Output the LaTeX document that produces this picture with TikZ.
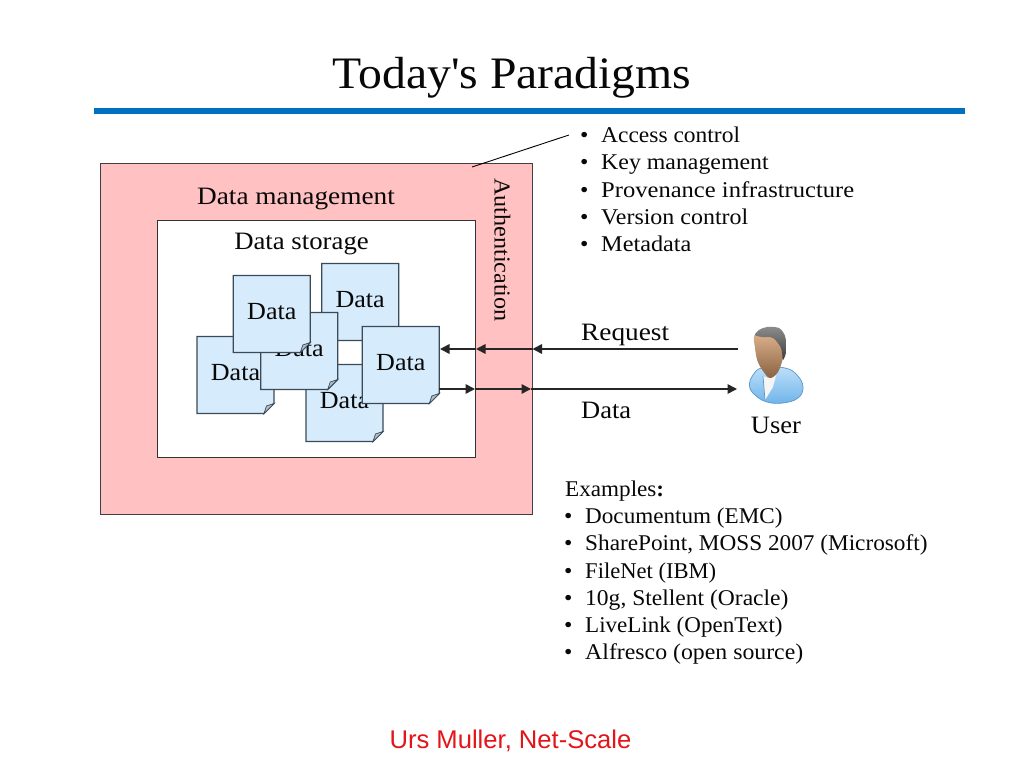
\documentclass[tikz,border=0pt]{standalone}
\usepackage{fontspec}
\usepackage{graphicx}
\setmainfont[FakeStretch=1.06]{Liberation Serif}
\newfontfamily\footfont{Liberation Sans}
\newfontfamily\titlefont[FakeStretch=1.06]{Liberation Serif}
\usetikzlibrary{arrows.meta,calc}
\definecolor{pinkbox}{HTML}{FFC1C1}
\definecolor{docfill}{HTML}{D6EBFB}
\definecolor{docline}{HTML}{3A4A58}
\definecolor{foldfill}{HTML}{B4BEC6}
\definecolor{barblue}{HTML}{0070C0}
\definecolor{txt}{HTML}{080808}
\definecolor{bodyhi}{HTML}{BFE0FA}
\definecolor{bodylo}{HTML}{6FB4EA}
\definecolor{bodyline}{HTML}{5A96C8}
\definecolor{facehi}{HTML}{DDB38D}
\definecolor{facelo}{HTML}{8A6242}
\definecolor{hairhi}{HTML}{8C8C8C}
\definecolor{hairlo}{HTML}{3C3C3C}
\definecolor{footred}{HTML}{E3141A}
\tikzset{
  lbl/.style={inner sep=0pt,anchor=base west,text=txt,font=\fontsize{25}{28}\selectfont},
  lblc/.style={lbl,anchor=base},
  lst/.style={lbl,font=\fontsize{22.5}{28}\selectfont},
  datalbl/.style={lblc,font=\fontsize{24.6}{28}\selectfont},
  docbox/.style={inner sep=0pt,minimum width=77pt,minimum height=77pt},
  docedge/.style={draw=docline,fill=docfill,line width=1.25pt,line join=miter},
  foldedge/.style={draw=docline,fill=foldfill,line width=0.7pt},
  panel/.style={inner sep=0pt,line width=0.9pt},
  flow/.style={draw=black!85,line width=1.6pt,-{Triangle[length=9.5pt,width=9.5pt]}},
}
\newcommand{\docpage}[3]{%
  \begin{scope}[shift={(#2,#3)}]
    \draw[docedge] (-38.5,-38.5) -- (38.5,-38.5) -- (38.5,28.5) -- (28.5,38.5) -- (-38.5,38.5) -- cycle;
    \draw[foldedge] (28.5,38.5) -- (31,31) -- (38.5,28.5) -- cycle;
    \node[docbox] (#1) at (0,0) {};
    \node[datalbl] (#1t) at (0,5) {Data};
  \end{scope}}
\begin{document}
\begin{tikzpicture}[x=1pt,y=-1pt]
\useasboundingbox (0,0) rectangle (1024,768);
\fill[white] (0,0) rectangle (1024,768);
% title
\node[lblc,font=\titlefont\fontsize{45}{50}\selectfont] (title) at (512,88.5) {Today's Paradigms};
\fill[barblue] (94,108) rectangle (965,114);
% panels
\node[panel,draw=black!75,fill=pinkbox,minimum width=432pt,minimum height=351pt] (mgmt) at (316,338.5) {};
\node[panel,draw=black!80,fill=white,minimum width=318pt,minimum height=237pt] (store) at (316,338.5) {};
\node[lblc] (mgmtt) at (296,204) {\scalebox{1.03}[1]{Data management}};
\node[lblc] (storet) at (301.5,249) {\scalebox{1.01}[1]{Data storage}};
\node[inner sep=0pt,text=txt,font=\fontsize{22.8}{28}\selectfont,rotate=-90] (auth) at (502.5,250) {Authentication};
% documents
\docpage{docA}{360.2}{302}
\docpage{docB}{235.5}{375}
\docpage{docC}{344.5}{403}
\docpage{docD}{299.2}{351}
\docpage{docE}{271.8}{314}
\docpage{docF}{400.8}{365}
% leader
\coordinate (leadA) at (472,167);
\coordinate (leadB) at (569,135);
\draw[black,line width=0.9pt] (leadA) -- (leadB);
% bullets top
\foreach \n/\y/\f/\t in {a/142/.984/Access control,b/169/1/Key management,c/197/1.03/Provenance infrastructure,d/224/1.005/Version control,e/251/1.017/Metadata}{
  \node[lst] (top\n) at (601,\y) {\scalebox{\f}[1]{\t}};
  \node[lst] (topb\n) at (580,\y) {•};
}
% flows
\coordinate (rq0) at (738,349);
\coordinate (rq1) at (532.5,349);
\coordinate (rq2) at (476,349);
\coordinate (rq3) at (440,349);
\coordinate (dt0) at (439.3,389);
\coordinate (dt1) at (475,389);
\coordinate (dt2) at (531,389);
\coordinate (dt3) at (737,389);
\draw[flow] (rq0) -- (rq1);
\draw[flow] (rq1) -- (rq2);
\draw[flow] (rq2) -- (rq3);
\draw[flow] (dt0) -- (dt1);
\draw[flow] (dt1) -- (dt2);
\draw[flow] (dt2) -- (dt3);
\node[lbl] (req) at (581,340) {\scalebox{1.03}[1]{Request}};
\node[lbl] (datal) at (581,418) {Data};
% user figure
\shade[top color=bodyhi,bottom color=bodylo,draw=bodyline,line width=0.7pt]
  plot[smooth cycle,tension=0.7] coordinates {(749.5,386) (753,375) (763,367.5) (785,368) (797,375) (803,387) (798,398) (783,403) (767,402) (755,395)};
\fill[white!92!gray] (763,376) -- (768,378) -- (777,372) -- (773,387) -- (765,400) -- cycle;
\draw[bodyline,line width=0.7pt] (763,376) -- (765,400);
\shade[top color=facehi,bottom color=facelo,draw=none]
  plot[smooth cycle,tension=0.6] coordinates {(754.5,335) (755,348) (757.5,361) (763,371) (770,378) (778,372) (783,358) (785,345) (780,337) (765,333)};
\shade[top color=hairhi,bottom color=hairlo,draw=none]
  plot[smooth cycle,tension=0.5] coordinates {(755,335) (759,330) (767,327) (779,328) (785,336) (786.5,350) (783,360) (781,348) (773,338) (762,337)};
\node[lblc] (user) at (776,433.5) {User};
% examples
\node[lst] (exh) at (565,496.5) {\scalebox{.97}[1]{Examples\textbf{:}}};
\foreach \n/\y/\f/\t in {a/523.5/.97/Documentum (EMC),b/550.5/.975/{SharePoint, MOSS 2007 (Microsoft)},c/578.5/.946/FileNet (IBM),d/605.5/.987/{10g, Stellent (Oracle)},e/632.5/.966/LiveLink (OpenText),f/659.5/.998/Alfresco (open source)}{
  \node[lst] (ex\n) at (585,\y) {\scalebox{\f}[1]{\t}};
  \node[lst] (exb\n) at (564,\y) {•};
}
% footer
\node[inner sep=0pt,anchor=base,text=footred,font=\footfont\fontsize{25.6}{28}\selectfont] (foot) at (510.5,748) {Urs Muller, Net-Scale};
\end{tikzpicture}
\end{document}
